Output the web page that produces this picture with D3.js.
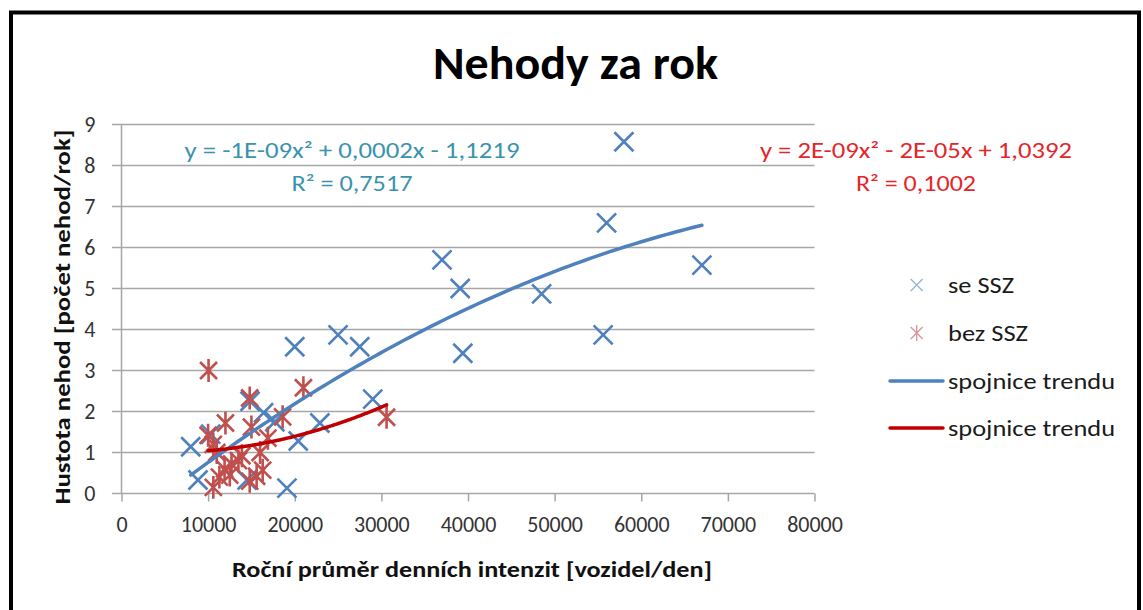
<!DOCTYPE html>
<html>
<head>
<meta charset="utf-8">
<script src="https://cdn.jsdelivr.net/npm/d3@7"></script>
<style>
  body { margin: 0; background: #fff; }
  text { font-family: Carlito, Lato, "Open Sans", sans-serif; }
</style>
</head>
<body>
<div id="chart"></div>
<script>
// tick values
const xTicks = [0, 10000, 20000, 30000, 40000, 50000, 60000, 70000, 80000];
const yTicks = [0, 1, 2, 3, 4, 5, 6, 7, 8, 9];

// se SSZ (blue crosses)
const sszX = [7990, 8830, 10300, 14500, 14840, 16400, 17700, 19100, 20000, 20400, 22900,
  25000, 27500, 29000, 37000, 39100, 39400, 48500, 55600, 56000, 58000, 67000];
const sszY = [1.14, 0.33, 1.45, 0.33, 2.25, 1.97, 1.75, 0.13, 3.58, 1.28, 1.72,
  3.87, 3.58, 2.3, 5.7, 5.0, 3.42, 4.87, 3.87, 6.6, 8.58, 5.57];

// bez SSZ (red stars)
const bezX = [10050, 21000, 14800, 30600, 18600, 12000, 15000, 10000, 16900, 10600, 16000,
  13900, 13500, 12700, 11900, 16300, 15600, 11300, 14800, 10600, 12500, 11000];
const bezY = [3.0, 2.58, 2.33, 1.86, 1.87, 1.72, 1.62, 1.42, 1.35, 1.2, 1.0,
  0.92, 0.8, 0.72, 0.6, 0.57, 0.42, 0.4, 0.3, 0.15, 0.45, 1.0];

const eqSSZ = ["y = -1E-09x² + 0,0002x - 1,1219", "R² = 0,7517"];
const eqBez = ["y = 2E-09x² - 2E-05x + 1,0392", "R² = 0,1002"];
const legendLabels = ["se SSZ", "bez SSZ", "spojnice trendu", "spojnice trendu"];

const width = 1143, height = 610;
const plot = {left: 121.5, right: 814.5, top: 124.5, bottom: 493.5};
const blue = "#4F81BD", red = "#C0504D", blueTrend = "#4F81BD", redTrend = "#C00000";

const x = d3.scaleLinear().domain([0, 80000]).range([plot.left, plot.right]);
const y = d3.scaleLinear().domain([0, 9]).range([plot.bottom, plot.top]);

const svg = d3.select("#chart").append("svg")
  .attr("width", width).attr("height", height);

// outer frame (bottom edge is cut off in the original)
svg.append("path")
  .attr("d", `M11,${height} V12.5 H1139 V${height}`)
  .attr("fill", "none").attr("stroke", "#000").attr("stroke-width", 4);

// least squares quadratic, like the excel trendline
function polyfit2(xs, ys) {
  const s = [0, 0, 0, 0, 0], t = [0, 0, 0];
  xs.forEach((xv, i) => {
    const u = xv / 10000;
    for (let k = 0; k < 5; k++) s[k] += Math.pow(u, k);
    for (let k = 0; k < 3; k++) t[k] += ys[i] * Math.pow(u, k);
  });
  const A = [[s[0], s[1], s[2], t[0]], [s[1], s[2], s[3], t[1]], [s[2], s[3], s[4], t[2]]];
  for (let c = 0; c < 3; c++) {
    for (let r = c + 1; r < 3; r++) {
      const f = A[r][c] / A[c][c];
      for (let k = c; k < 4; k++) A[r][k] -= f * A[c][k];
    }
  }
  const p = [0, 0, 0];
  for (let r = 2; r >= 0; r--) {
    let v = A[r][3];
    for (let k = r + 1; k < 3; k++) v -= A[r][k] * p[k];
    p[r] = v / A[r][r];
  }
  return xv => { const u = xv / 10000; return p[0] + p[1] * u + p[2] * u * u; };
}

function trendPoints(xs, ys) {
  const f = polyfit2(xs, ys);
  const [lo, hi] = d3.extent(xs);
  return d3.range(0, 101).map(i => { const xv = lo + (hi - lo) * i / 100; return [xv, f(xv)]; });
}

// grid
svg.append("g").selectAll("line").data(yTicks).join("line")
  .attr("x1", plot.left - 9.5).attr("x2", plot.right)
  .attr("y1", d => y(d)).attr("y2", d => y(d))
  .attr("stroke", "#A6A6A6").attr("stroke-width", 1.5);

svg.append("line")
  .attr("x1", plot.left).attr("x2", plot.left)
  .attr("y1", plot.top).attr("y2", plot.bottom)
  .attr("stroke", "#A6A6A6").attr("stroke-width", 1.5);

// y axis labels
const yAxis = svg.append("g")
  .attr("transform", `translate(${plot.left},0)`)
  .call(d3.axisLeft(y).tickValues(yTicks).tickSize(0).tickPadding(26));
yAxis.select(".domain").remove();
yAxis.selectAll("text").attr("font-size", 22).attr("fill", "#333")
  .style("font-family", "Carlito, Lato, sans-serif");

// x axis
const xAxis = svg.append("g")
  .attr("transform", `translate(0,${plot.bottom})`)
  .call(d3.axisBottom(x).tickValues(xTicks).tickFormat(d3.format("d")).tickSizeOuter(0).tickSize(8));
xAxis.select(".domain").remove();
xAxis.selectAll(".tick line").attr("stroke", "#A6A6A6").attr("stroke-width", 1.5);
xAxis.selectAll("text").attr("font-size", 22).attr("fill", "#333")
  .attr("y", 31).attr("dy", "0.35em")
  .style("font-family", "Carlito, Lato, sans-serif");

// markers
function cross(g, r, sw, color) {
  g.append("path")
    .attr("d", `M${-r},${-r}L${r},${r}M${-r},${r}L${r},${-r}`)
    .attr("stroke", color).attr("stroke-width", sw).attr("fill", "none");
}
function star(g, r, sw, color) {
  g.append("path")
    .attr("d", `M${-r},${-r}L${r},${r}M${-r},${r}L${r},${-r}M0,${-r * 1.35}V${r * 1.35}`)
    .attr("stroke", color).attr("stroke-width", sw).attr("fill", "none");
}

const sszData = sszX.map((v, i) => [v, sszY[i]]);
const bezData = bezX.map((v, i) => [v, bezY[i]]);

svg.append("g").selectAll("g").data(sszData).join("g")
  .attr("transform", d => `translate(${x(d[0])},${y(d[1])})`)
  .each(function () { cross(d3.select(this), 9.5, 2.6, blue); });

svg.append("g").selectAll("g").data(bezData).join("g")
  .attr("transform", d => `translate(${x(d[0])},${y(d[1])})`)
  .each(function () { star(d3.select(this), 8.5, 2.6, red); });

// trend lines
const line = d3.line().x(d => x(d[0])).y(d => y(d[1]));
svg.append("path").datum(trendPoints(sszX, sszY))
  .attr("d", line).attr("fill", "none").attr("stroke", blueTrend)
  .attr("stroke-width", 3.5).attr("stroke-linecap", "round");
svg.append("path").datum(trendPoints(bezX, bezY))
  .attr("d", line).attr("fill", "none").attr("stroke", redTrend)
  .attr("stroke-width", 3.5).attr("stroke-linecap", "round");

// texts
function fit(sel, w) { return sel.attr("textLength", w).attr("lengthAdjust", "spacingAndGlyphs"); }

fit(svg.append("text").attr("x", 575.5).attr("y", 79).attr("text-anchor", "middle")
  .attr("font-size", 46).attr("font-weight", "bold").text("Nehody za rok"), 285);

fit(svg.append("text").attr("x", 472).attr("y", 577).attr("text-anchor", "middle")
  .attr("font-size", 22).attr("font-weight", "bold").attr("fill", "#111")
  .text("Roční průměr denních intenzit [vozidel/den]"), 480);

fit(svg.append("text").attr("transform", "translate(70,317) rotate(-90)")
  .attr("text-anchor", "middle")
  .attr("font-size", 22).attr("font-weight", "bold").attr("fill", "#111")
  .text("Hustota nehod [počet nehod/rok]"), 375);

svg.append("g").selectAll("text").data(eqSSZ).join("text")
  .attr("x", 352).attr("y", (d, i) => 158 + i * 33).attr("text-anchor", "middle")
  .attr("font-size", 22).attr("fill", "#3A93AC").text(d => d)
  .each(function (d, i) { fit(d3.select(this), i === 0 ? 335 : 121); });

svg.append("g").selectAll("text").data(eqBez).join("text")
  .attr("x", 916).attr("y", (d, i) => 158 + i * 33).attr("text-anchor", "middle")
  .attr("font-size", 22).attr("fill", "#E3262B").text(d => d)
  .each(function (d, i) { fit(d3.select(this), i === 0 ? 312 : 120); });

// legend
const legendY = [285, 333, 381, 428];
const legendW = [66, 80, 167, 167];
const legend = svg.append("g").selectAll("g").data(legendLabels).join("g")
  .attr("transform", (d, i) => `translate(0,${legendY[i]})`);
legend.append("text").attr("x", 948).attr("dy", "0.35em")
  .attr("font-size", 23).attr("fill", "#1a1a1a").text(d => d)
  .each(function (d, i) { fit(d3.select(this), legendW[i]); });
legend.each(function (d, i) {
  const g = d3.select(this);
  if (i === 0) cross(g.append("g").attr("transform", "translate(916.7,0)"), 6, 1.3, "#95B3D7");
  else if (i === 1) star(g.append("g").attr("transform", "translate(916.7,0)"), 6, 1.3, "#D99694");
  else g.append("line").attr("x1", 890).attr("x2", 943)
    .attr("stroke", i === 2 ? blueTrend : redTrend).attr("stroke-width", 3.5)
    .attr("stroke-linecap", "round");
});
</script>
</body>
</html>
